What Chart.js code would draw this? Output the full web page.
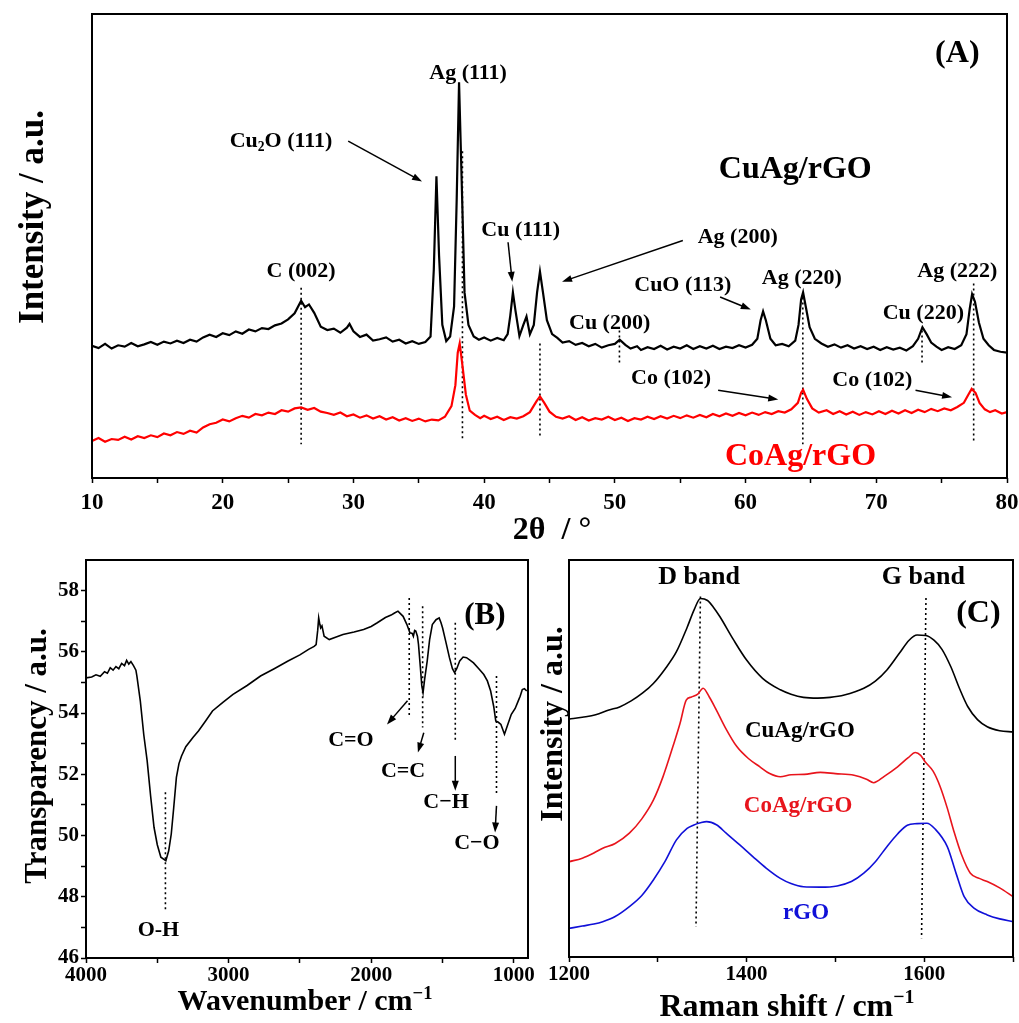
<!DOCTYPE html>
<html>
<head>
<meta charset="utf-8">
<script src="https://cdn.jsdelivr.net/npm/chart.js@4.4.1/dist/chart.umd.min.js"></script>
<style>
  html, body { margin: 0; padding: 0; background: #fff; }
  #page { position: relative; width: 1019px; height: 1023px; overflow: hidden; }
  canvas { position: absolute; }
</style>
</head>
<body>
<div id="page">
  <canvas id="xrdChart" width="1040" height="550" style="left:0;top:0"></canvas>
  <canvas id="ftirChart" width="540" height="483" style="left:0;top:540px"></canvas>
  <canvas id="ramanChart" width="491" height="483" style="left:528px;top:540px"></canvas>
</div>
<script>
const FONT = '"Liberation Serif", "Times New Roman", serif';

// ---------- (A) XRD ----------
const xrdTicks = [10, 15, 20, 25, 30, 35, 40, 45, 50, 55, 60, 65, 70, 75, 80];
const cuAgXrd = [
  [10,28.5],[10.5,28.0],[11,28.9],[11.5,27.9],[12,28.6],[12.5,28.3],[13,29.1],[13.5,28.4],[14,28.8],[14.5,29.3],
  [15,28.7],[15.5,29.4],[16,29.0],[16.5,29.6],[17,29.1],[17.5,29.8],[18,29.4],[18.5,30.3],[19,30.9],[19.5,30.4],
  [20,31.2],[20.5,30.8],[21,31.6],[21.5,31.1],[22,32.0],[22.5,31.6],[23,32.3],[23.5,32.1],[24,32.9],[24.5,33.3],
  [25,34.2],[25.5,35.5],[26,38.2],[26.3,36.8],[26.6,37.4],[27,35.6],[27.5,32.6],[28,31.9],[28.5,32.2],[29,31.3],
  [29.5,32.4],[29.7,33.2],[30,31.6],[30.5,30.4],[31,30.9],[31.5,29.6],[32,29.9],[32.5,30.3],[33,29.4],[33.5,29.8],
  [34,29.0],[34.5,29.5],[35,28.9],[35.5,29.3],[35.9,30.5],[36.15,45],[36.35,65],[36.55,48],[36.8,33],[37.1,29.5],
  [37.4,30.5],[37.7,37],[37.9,60],[38.08,85.3],[38.3,62],[38.5,40],[38.8,33],[39.2,30.5],[39.6,29.8],[40,30.3],
  [40.5,29.6],[41,30.2],[41.5,29.7],[41.8,31],[42.0,35],[42.2,40],[42.4,36],[42.7,30.6],[43.0,33],[43.24,34.8],
  [43.5,31],[43.8,33],[44.05,40],[44.27,44.5],[44.5,40],[44.8,34],[45.2,31],[45.6,30.2],[46,29.2],[46.5,29.5],
  [47,28.7],[47.5,29.1],[48,28.4],[48.5,28.9],[49,28.1],[49.5,28.6],[50,28.9],[50.37,29.8],[50.8,28.7],[51.2,27.9],
  [51.7,28.4],[52,27.6],[52.5,28.2],[53,27.8],[53.5,28.5],[54,27.7],[54.5,28.3],[55,27.9],[55.5,28.6],[56,27.8],
  [56.5,28.4],[57,27.9],[57.5,28.5],[58,27.8],[58.5,28.3],[59,28.0],[59.5,28.6],[60,28.1],[60.5,28.7],[60.9,30],
  [61.15,34],[61.34,35.9],[61.55,34],[61.9,30],[62.3,28.6],[62.8,28.9],[63.3,28.4],[63.8,29.6],[64.05,33],[64.25,38.5],
  [64.4,40],[64.6,37],[64.9,32.5],[65.3,30],[65.8,29],[66.3,28.3],[66.8,28.8],[67.3,28.1],[67.8,28.6],[68.3,27.9],
  [68.8,28.4],[69.3,27.8],[69.8,28.3],[70.3,27.6],[70.8,28.2],[71.3,27.7],[71.8,28.1],[72.3,27.5],[72.8,28.4],[73.2,30],
  [73.53,32.5],[73.85,31],[74.2,29.2],[74.6,28.3],[75,27.6],[75.5,28.2],[76,27.8],[76.5,28.6],[76.9,31],[77.15,36.5],
  [77.33,39.6],[77.55,38],[77.85,33.5],[78.2,30],[78.6,28.6],[79,27.6],[79.5,27.2],[80,27.0]
];
const coAgXrd = [
  [10,8.0],[10.5,8.6],[11,7.8],[11.5,8.4],[12,8.2],[12.5,8.9],[13,8.3],[13.5,9.0],[14,8.6],[14.5,9.2],
  [15,8.8],[15.5,9.6],[16,9.2],[16.5,9.9],[17,9.5],[17.5,10.2],[18,9.8],[18.5,10.9],[19,11.6],[19.5,11.9],
  [20,12.6],[20.5,12.2],[21,12.9],[21.5,13.4],[22,13.0],[22.5,13.8],[23,13.5],[23.5,14.1],[24,13.8],[24.5,14.6],
  [25,14.3],[25.5,15.0],[26,15.2],[26.5,14.7],[27,15.1],[27.5,14.3],[28,14.0],[28.5,13.6],[29,14.1],[29.5,13.3],
  [30,13.7],[30.5,13.0],[31,13.5],[31.5,12.8],[32,13.3],[32.5,12.6],[33,13.1],[33.5,12.4],[34,12.9],[34.5,12.3],
  [35,12.8],[35.5,12.2],[36,12.6],[36.5,12.4],[37,13.2],[37.5,15.5],[37.8,20],[37.98,27],[38.13,29],[38.35,24],
  [38.6,18],[38.9,14.5],[39.3,13.6],[39.7,12.9],[40,13.4],[40.5,12.7],[41,13.2],[41.5,12.5],[42,13.1],[42.5,12.8],
  [43,13.3],[43.5,14.2],[44,16.5],[44.27,17.6],[44.6,16.2],[45,14.3],[45.5,13.2],[46,12.8],[46.5,13.3],[47,12.5],
  [47.5,13.1],[48,12.4],[48.5,12.9],[49,12.6],[49.5,13.2],[50,12.5],[50.5,13.0],[51,12.3],[51.5,12.9],[52,12.6],
  [52.5,13.2],[53,12.7],[53.5,13.3],[54,12.8],[54.5,13.4],[55,12.9],[55.5,13.5],[56,13.0],[56.5,13.6],[57,13.1],
  [57.5,13.8],[58,13.3],[58.5,13.9],[59,13.4],[59.5,14.0],[60,13.5],[60.5,14.1],[61,13.6],[61.5,14.2],[62,13.8],
  [62.5,14.4],[63,14.1],[63.5,14.8],[64,16.2],[64.25,18.4],[64.4,19.0],[64.7,17.0],[65.1,15.0],[65.6,14.1],[66.2,14.6],
  [66.7,13.8],[67.2,14.4],[67.7,13.7],[68.2,14.3],[68.7,13.6],[69.2,14.2],[69.7,13.7],[70.2,14.4],[70.7,13.8],[71.2,14.5],
  [71.7,13.9],[72.2,14.6],[72.7,14.0],[73.2,14.7],[73.7,14.2],[74.2,14.9],[74.7,14.4],[75.2,15.0],[75.7,14.6],[76.2,15.3],
  [76.7,16.2],[77.05,18.0],[77.3,19.2],[77.6,18.3],[77.9,16.2],[78.3,14.8],[78.7,14.2],[79.1,14.6],[79.6,13.9],[80,14.2]
];
// dotted guides [x1, y1, x2, y2]
const xrdGuides = [
  [26.0,41,26.0,7.3],[38.34,70.4,38.34,8],[44.27,29,44.27,8.9],[50.35,31.8,50.35,24.7],
  [64.38,40,64.38,7.3],[73.5,31.8,73.5,24.5],[77.45,41.9,77.45,8]
];
const xrdArrows = [
  [29.6,72.6,35.25,63.9],[41.83,50.8,42.15,42.3],[55.2,51.2,45.96,42.3],
  [58.05,39,60.4,36.3],[57.9,18.9,62.5,16.9],[73,18.9,75.8,17.4]
];

// ---------- (B) FTIR ----------
const ftirXTicks = [1000, 1500, 2000, 2500, 3000, 3500, 4000];
const ftirYTicks = [46, 47, 48, 49, 50, 51, 52, 53, 54, 55, 56, 57, 58];
const ftirTrace = [
  [4000,55.15],[3960,55.18],[3930,55.25],[3900,55.2],[3870,55.35],[3850,55.3],[3830,55.48],[3810,55.4],[3790,55.52],[3770,55.45],
  [3750,55.62],[3730,55.55],[3715,55.72],[3700,55.6],[3685,55.68],[3667,55.55],[3650,55.4],[3643,55.21],[3619,54.39],[3595,53.3],
  [3571,52.44],[3547,51.3],[3523,50.27],[3500,49.7],[3475,49.29],[3440,49.18],[3420,49.5],[3402,50.05],[3385,50.9],[3366,51.9],
  [3348,52.35],[3330,52.6],[3300,52.9],[3250,53.2],[3210,53.42],[3160,53.75],[3113,54.07],[3040,54.35],[2969,54.61],[2870,54.9],
  [2776,55.21],[2680,55.45],[2583,55.7],[2500,55.9],[2439,56.08],[2400,56.18],[2386,56.24],[2375,56.7],[2368,57.11],[2360,56.9],
  [2354,56.78],[2345,56.85],[2330,56.51],[2294,56.4],[2250,56.48],[2198,56.57],[2120,56.65],[2053,56.73],[2000,56.83],[1957,56.95],
  [1900,57.12],[1860,57.2],[1836,57.27],[1812,57.33],[1795,57.25],[1776,57.16],[1750,56.9],[1728,56.62],[1712,56.6],[1704,56.51],
  [1695,56.7],[1687,56.68],[1675,56.5],[1668,56.24],[1655,55.5],[1645,54.9],[1636,54.67],[1625,55.1],[1607,55.7],[1590,56.4],
  [1571,56.89],[1545,57.05],[1523,57.11],[1510,56.95],[1499,56.78],[1475,56.3],[1451,55.81],[1430,55.45],[1415,55.32],[1400,55.45],
  [1379,55.7],[1355,55.83],[1331,55.81],[1305,55.72],[1282,55.64],[1245,55.45],[1210,55.26],[1185,55.05],[1162,54.72],[1140,54.2],
  [1126,53.74],[1108,53.7],[1090,53.63],[1065,53.31],[1040,53.65],[1017,53.96],[990,54.15],[969,54.39],[955,54.55],[940,54.77],
  [925,54.8],[909,54.72]
];
const ftirGuides = [
  [3443,51.41,3443,47.5],[1733,57.76,1733,53.85],[1639,57.49,1639,53.53],[1410,56.95,1410,53.04],[1121,55.21,1121,51.35]
];
const ftirArrows = [
  [1745,54.4,1889,53.63],[1631,53.36,1672,52.71],[1410,52.6,1410,51.46],[1121,50.97,1131,50.1]
];

// ---------- (C) Raman ----------
const ramanTicks = [1200, 1300, 1400, 1500, 1600, 1700];
const cuAgRaman = [
  [1200,59.9],[1215,60.4],[1230,61.0],[1245,62.2],[1257,63.0],[1270,64.5],[1283,66.5],[1295,68.9],[1308,72.5],[1321,76.9],
  [1333,83.0],[1341,87.5],[1348,90.3],[1356,89.8],[1363,88.0],[1370,85.7],[1385,80.0],[1400,74.8],[1418,70.2],[1438,67.3],
  [1450,66.2],[1464,65.4],[1480,65.2],[1494,65.4],[1510,66.0],[1532,67.7],[1545,69.5],[1558,72.3],[1572,76.5],[1583,79.8],
  [1592,81.1],[1602,81.0],[1611,79.8],[1620,77.5],[1630,73.1],[1640,67.5],[1649,63.1],[1660,59.8],[1671,58.0],[1685,57.0],
  [1700,56.7]
];
const coAgRaman = [
  [1200,24.0],[1215,24.9],[1228,26.2],[1238,27.4],[1252,28.6],[1268,31.2],[1282,34.8],[1295,39.5],[1306,45.5],[1317,53.0],
  [1325,58.8],[1332,64.7],[1338,65.5],[1345,66.2],[1351,67.7],[1358,65.5],[1366,62.2],[1376,57.8],[1389,53.0],[1402,50.0],
  [1415,47.9],[1426,46.2],[1438,45.4],[1450,45.9],[1465,46.0],[1483,46.5],[1500,46.2],[1521,45.8],[1535,44.8],[1543,43.9],
  [1555,45.5],[1570,47.9],[1582,50.2],[1590,51.5],[1596,50.8],[1601,49.2],[1610,46.8],[1618,42.9],[1626,37.5],[1633,32.0],
  [1642,25.8],[1652,21.1],[1662,19.8],[1671,19.0],[1685,17.4],[1700,15.2]
];
const rGoRaman = [
  [1200,7.2],[1215,7.8],[1228,8.3],[1238,8.9],[1252,10.2],[1268,12.7],[1282,15.5],[1295,19.4],[1308,24.0],[1321,29.5],
  [1333,32.4],[1340,33.2],[1348,33.8],[1355,34.1],[1366,33.3],[1377,31.2],[1392,28.3],[1407,25.3],[1422,22.4],[1438,19.8],
  [1450,18.5],[1464,17.7],[1483,17.6],[1502,17.9],[1518,19.0],[1532,21.1],[1545,24.0],[1558,27.8],[1570,31.0],[1581,33.2],
  [1592,33.6],[1603,33.7],[1612,32.3],[1626,27.8],[1636,21.0],[1645,15.2],[1656,12.3],[1671,10.6],[1685,9.6],[1700,8.9]
];
const ramanGuides = [[1348,90.8,1343,7.6],[1602,90.4,1597,4.7]];

// ---------- drawing helpers ----------
function drawRich(ctx, parts, cx, cy, size, color, angle) {
  ctx.save();
  ctx.translate(cx, cy);
  if (angle) ctx.rotate(angle);
  ctx.fillStyle = color;
  ctx.textAlign = 'left';
  ctx.textBaseline = 'alphabetic';
  const segs = (typeof parts === 'string' ? [{t: parts}] : parts).map(p => {
    const s = (p.sub || p.sup) ? size * 0.62 : size;
    ctx.font = 'bold ' + s + 'px ' + FONT;
    return {t: p.t, s: s, w: ctx.measureText(p.t).width, dy: p.sub ? size * 0.2 : (p.sup ? -size * 0.38 : 0)};
  });
  const total = segs.reduce((a, b) => a + b.w, 0);
  let x = -total / 2;
  segs.forEach(sg => {
    ctx.font = 'bold ' + sg.s + 'px ' + FONT;
    ctx.fillText(sg.t, x, size * 0.33 + sg.dy);
    x += sg.w;
  });
  ctx.restore();
}

function drawArrow(ctx, x1, y1, x2, y2) {
  const ang = Math.atan2(y2 - y1, x2 - x1);
  const len = 10, half = 3.5;
  ctx.beginPath();
  ctx.moveTo(x1, y1);
  ctx.lineTo(x2 - Math.cos(ang) * len * 0.8, y2 - Math.sin(ang) * len * 0.8);
  ctx.lineWidth = 1.5;
  ctx.strokeStyle = '#000';
  ctx.stroke();
  ctx.beginPath();
  ctx.moveTo(x2, y2);
  ctx.lineTo(x2 - Math.cos(ang) * len - Math.sin(ang) * half, y2 - Math.sin(ang) * len + Math.cos(ang) * half);
  ctx.lineTo(x2 - Math.cos(ang) * len + Math.sin(ang) * half, y2 - Math.sin(ang) * len - Math.cos(ang) * half);
  ctx.closePath();
  ctx.fillStyle = '#000';
  ctx.fill();
}

function makeDecor(cfg) {
  return {
    id: 'decor',
    afterDraw(chart) {
      const {ctx, chartArea: a, scales: {x, y}} = chart;
      ctx.save();
      ctx.strokeStyle = '#000';
      ctx.lineWidth = 2;
      ctx.strokeRect(a.left, a.top, a.right - a.left, a.bottom - a.top);
      (cfg.arrows || []).forEach(r => drawArrow(ctx,
        x.getPixelForValue(r[0]), y.getPixelForValue(r[1]), x.getPixelForValue(r[2]), y.getPixelForValue(r[3])));
      (cfg.labels || []).forEach(l => drawRich(ctx, l.text,
        x.getPixelForValue(l.at[0]), y.getPixelForValue(l.at[1]), l.size || 22, l.color || '#000'));
      (cfg.titles || []).forEach(t => drawRich(ctx, t.text, t.cx, t.cy, t.size, '#000', t.rotate ? -Math.PI / 2 : 0));
      ctx.restore();
    }
  };
}

const toXY = arr => arr.map(p => ({x: p[0], y: p[1]}));
function trace(arr, color, width, extra) {
  return Object.assign({data: toXY(arr), borderColor: color, borderWidth: width, pointRadius: 0, tension: 0}, extra || {});
}
function guides(list) {
  return list.map(g => ({data: [{x: g[0], y: g[1]}, {x: g[2], y: g[3]}], borderColor: '#000',
    borderWidth: 1.6, borderDash: [2, 3], pointRadius: 0}));
}
const tickFont = size => ({family: FONT, weight: 'bold', size: size});
const tickGrid = {display: true, drawOnChartArea: false, drawTicks: true, tickLength: 5, tickWidth: 1.5, tickColor: '#000'};
const baseOptions = {
  responsive: false,
  animation: false,
  plugins: {legend: {display: false}, tooltip: {enabled: false}}
};

// ---------- (A) chart ----------
new Chart(document.getElementById('xrdChart'), {
  type: 'line',
  data: {datasets: [
    trace(cuAgXrd, '#000', 2.2),
    trace(coAgXrd, '#ff0000', 2.2)
  ].concat(guides(xrdGuides))},
  options: Object.assign({}, baseOptions, {
    layout: {padding: {top: 14, right: 33, left: 0, bottom: 0}},
    scales: {
      x: {type: 'linear', min: 10, max: 80,
        afterBuildTicks: s => { s.ticks = xrdTicks.map(v => ({value: v})); },
        afterFit: s => { s.height = 72; },
        ticks: {font: tickFont(23), color: '#000', padding: 6, maxRotation: 0, autoSkip: false,
          callback: v => (v % 10 === 0 ? v : '')},
        grid: tickGrid, border: {display: false}},
      y: {min: 0, max: 100,
        afterFit: s => { s.width = 92; },
        ticks: {display: false}, grid: {display: false}, border: {display: false}}
    }
  }),
  plugins: [makeDecor({
    arrows: xrdArrows,
    labels: [
      {text: 'C (002)', at: [26.0, 44.8]},
      {text: 'Ag (111)', at: [38.77, 87.5]},
      {text: [{t: 'Cu'}, {t: '2', sub: true}, {t: 'O (111)'}], at: [24.46, 73]},
      {text: 'Cu (111)', at: [42.8, 53.7]},
      {text: 'Ag (200)', at: [59.4, 52.3]},
      {text: 'CuO (113)', at: [55.2, 41.9]},
      {text: 'Cu (200)', at: [49.6, 33.6]},
      {text: 'Ag (220)', at: [64.3, 43.4]},
      {text: 'Cu (220)', at: [73.6, 35.9]},
      {text: 'Ag (222)', at: [76.2, 44.8]},
      {text: 'Co (102)', at: [54.3, 21.8]},
      {text: 'Co (102)', at: [69.7, 21.4]},
      {text: 'CuAg/rGO', at: [63.8, 67], size: 32},
      {text: 'CoAg/rGO', at: [64.2, 5.1], size: 32, color: '#ff0000'},
      {text: '(A)', at: [76.2, 92], size: 32}
    ],
    titles: [
      {text: 'Intensity / a.u.', cx: 31, cy: 217, size: 35, rotate: true},
      {text: '2θ  / °', cx: 552, cy: 528, size: 32}
    ]
  })]
});

// ---------- (B) chart ----------
new Chart(document.getElementById('ftirChart'), {
  type: 'line',
  data: {datasets: [trace(ftirTrace, '#000', 1.6)].concat(guides(ftirGuides))},
  options: Object.assign({}, baseOptions, {
    layout: {padding: {top: 20, right: 12, left: 0, bottom: 0}},
    scales: {
      x: {type: 'linear', min: 900, max: 4000, reverse: true,
        afterBuildTicks: s => { s.ticks = ftirXTicks.map(v => ({value: v})); },
        afterFit: s => { s.height = 65; },
        ticks: {font: tickFont(21), color: '#000', padding: 0, maxRotation: 0, autoSkip: false,
          callback: v => (v % 1000 === 0 ? v : '')},
        grid: tickGrid, border: {display: false}},
      y: {min: 46, max: 59,
        afterBuildTicks: s => { s.ticks = ftirYTicks.map(v => ({value: v})); },
        afterFit: s => { s.width = 86; },
        ticks: {font: tickFont(21), color: '#000', padding: 2, autoSkip: false,
          callback: v => (v % 2 === 0 ? v : '')},
        grid: tickGrid, border: {display: false}}
    }
  }),
  plugins: [makeDecor({
    arrows: ftirArrows,
    labels: [
      {text: 'O-H', at: [3492, 46.96]},
      {text: 'C=O', at: [2142, 53.17]},
      {text: 'C=C', at: [1776, 52.14]},
      {text: 'C\u2212H', at: [1475, 51.14]},
      {text: 'C\u2212O', at: [1258, 49.8]},
      {text: '(B)', at: [1203, 57.24], size: 31}
    ],
    titles: [
      {text: 'Transparency / a.u.', cx: 36, cy: 216, size: 31, rotate: true},
      {text: [{t: 'Wavenumber / cm'}, {t: '\u22121', sup: true}], cx: 305, cy: 460, size: 30}
    ]
  })]
});

// ---------- (C) chart ----------
const smooth = {cubicInterpolationMode: 'monotone'};
new Chart(document.getElementById('ramanChart'), {
  type: 'line',
  data: {datasets: [
    trace(cuAgRaman, '#000', 1.6, smooth),
    trace(coAgRaman, '#e8141c', 1.6, smooth),
    trace(rGoRaman, '#1010d8', 1.6, smooth)
  ].concat(guides(ramanGuides))},
  options: Object.assign({}, baseOptions, {
    layout: {padding: {top: 20, right: 6, left: 0, bottom: 0}},
    scales: {
      x: {type: 'linear', min: 1200, max: 1700,
        afterBuildTicks: s => { s.ticks = ramanTicks.map(v => ({value: v})); },
        afterFit: s => { s.height = 66; },
        ticks: {font: tickFont(21), color: '#000', padding: 0, maxRotation: 0, autoSkip: false,
          callback: v => (v % 200 === 0 ? v : '')},
        grid: tickGrid, border: {display: false}},
      y: {min: 0, max: 100,
        afterFit: s => { s.width = 41; },
        ticks: {display: false}, grid: {display: false}, border: {display: false}}
    }
  }),
  plugins: [makeDecor({
    labels: [
      {text: 'D band', at: [1346.5, 96.2], size: 26},
      {text: 'G band', at: [1599, 96.2], size: 26},
      {text: '(C)', at: [1661, 87], size: 32},
      {text: 'CuAg/rGO', at: [1460, 57.3], size: 23},
      {text: 'CoAg/rGO', at: [1458, 38.5], size: 23, color: '#e8141c'},
      {text: 'rGO', at: [1467, 11.4], size: 23, color: '#1010d8'}
    ],
    titles: [
      {text: 'Intensity / a.u.', cx: 23, cy: 184, size: 32, rotate: true},
      {text: [{t: 'Raman shift / cm'}, {t: '\u22121', sup: true}], cx: 259, cy: 465, size: 32}
    ]
  })]
});
</script>
</body>
</html>
